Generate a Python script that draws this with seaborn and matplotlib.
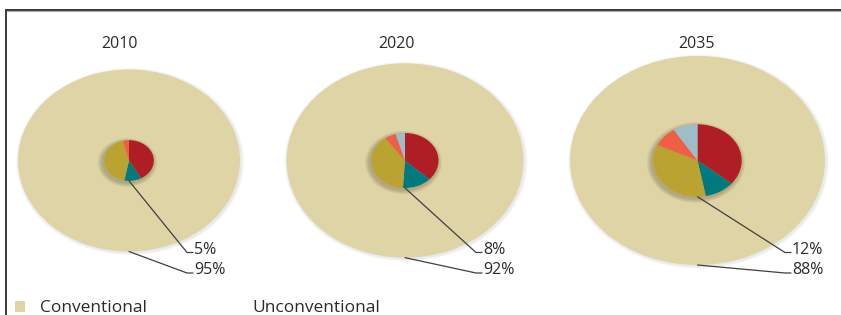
import numpy as np
import matplotlib
matplotlib.use("Agg")
import matplotlib.pyplot as plt
from matplotlib.patches import Ellipse, Rectangle
import seaborn as sns

# data
years = ["2010", "2020", "2035"]
total_bcm = [3300, 3760, 4350]          # sets the size of each outer pie
conv_share = [95, 92, 88]
unconv_share = [5, 8, 12]
# split of the unconventional slice, clockwise from the top
mix_2010 = [42, 11, 43, 4, 0]
mix_2020 = [37, 14, 39, 5.5, 4.5]
mix_2035 = [36, 11, 35, 9, 9]
mixes = [mix_2010, mix_2020, mix_2035]
legend_labels = ["Conventional", "Unconventional"]

conv_color = "#dfd4a5"
mix_colors = sns.color_palette(["#b01e25", "#00797f", "#bba332", "#f05f45", "#9ebdc8"])
text_color = "#2b2b2b"

W, H = 841, 315
SQ = 0.82  # vertical squash of the pies


def Y(py):
    # pixel row -> data y
    return (H - py) / SQ


sns.set_theme(style="white")
plt.rcParams["font.family"] = ["Open Sans", "DejaVu Sans"]

fig = plt.figure(figsize=(W / 100, H / 100), dpi=100)
ax = fig.add_axes([0, 0, 1, 1])

centers_x = [129, 405, 697.5]
center_y = 160.5
title_x = [120, 397, 697]
label_x = [194, 483, 792]
k = 111 / np.sqrt(total_bcm[0])

for i, year in enumerate(years):
    cx, cy = centers_x[i], Y(center_y)
    R = k * np.sqrt(total_bcm[i])
    r_in = R * np.sqrt(unconv_share[i] / 100)

    # soft edge shadow of the big pie
    for e in range(1, 4):
        ax.add_patch(Ellipse((cx + 1, cy - 1 / SQ), 2 * (R + e), 2 * (R + e),
                             color="#7a7a7a", alpha=0.05, lw=0, zorder=1))
    ax.pie([100], radius=R, center=(cx, cy), colors=[conv_color],
           startangle=90, frame=True, wedgeprops=dict(linewidth=0, zorder=2))

    # dark blurred shadow of the small pie
    for e in range(1, 6):
        ax.add_patch(Ellipse((cx - 1.5, cy - 2 / SQ), 2 * (r_in + e), 2 * (r_in + e),
                             color="#3a3420", alpha=0.06, lw=0, zorder=3))
    wedges, _ = ax.pie(mixes[i], radius=r_in, center=(cx, cy), colors=mix_colors,
                       startangle=90, counterclock=False, frame=True,
                       wedgeprops=dict(linewidth=0))
    for w in wedges:
        w.set_zorder(4)

    ax.text(title_x[i], Y(43.5), year, ha="center", va="center",
            fontsize=11.5, color=text_color, zorder=6)

    # leader lines and labels
    lx = label_x[i]
    ax.plot([cx, lx - 7, lx - 1], [cy - r_in, Y(252.5), Y(252.5)],
            color="#404040", lw=0.9, zorder=5)
    ax.plot([cx, lx - 7, lx - 1], [cy - R, Y(273), Y(273)],
            color="#404040", lw=0.9, zorder=5)
    ax.text(lx, Y(254), f"{unconv_share[i]}%", ha="left", va="baseline",
            fontsize=11.5, color=text_color, zorder=6)
    ax.text(lx, Y(273.5), f"{conv_share[i]}%", ha="left", va="baseline",
            fontsize=11.5, color=text_color, zorder=6)

# frame lines
ax.plot([6.5, 6.5], [Y(9.5), Y(H)], color="#3a3a3a", lw=1.4, zorder=6)
ax.plot([6.5, W], [Y(9.5), Y(9.5)], color="#3a3a3a", lw=1.4, zorder=6)
ax.plot([7.5, W], [Y(10.8), Y(10.8)], color="#b0b0b0", lw=0.8, zorder=6)

# legend
ax.add_patch(Rectangle((15, Y(312)), 10, 11 / SQ, color=conv_color, lw=0, zorder=6))
ax.text(40, Y(311.5), legend_labels[0], ha="left", va="baseline",
        fontsize=12.5, color=text_color)
ax.text(252, Y(311.5), legend_labels[1], ha="left", va="baseline",
        fontsize=12.5, color=text_color)

ax.set_aspect("auto")
ax.set_xlim(0, W)
ax.set_ylim(0, H / SQ)
ax.axis("off")

fig.savefig("out.png", dpi=100)
